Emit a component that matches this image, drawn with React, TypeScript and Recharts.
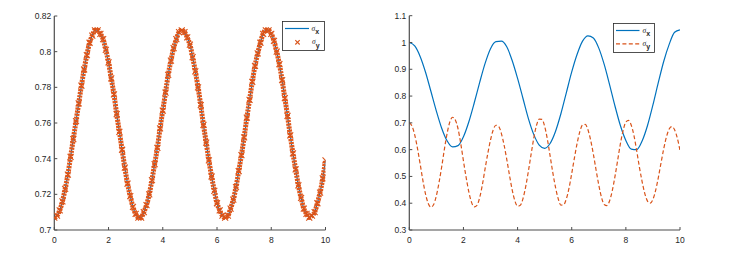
import React from 'react';
import { LineChart, Line, XAxis, YAxis, Legend } from 'recharts';

// time grid of the samples
const T_STEP = 0.1;

// left panel: sigma_x (line) and sigma_y (markers) coincide
const leftSigmaX = [
  0.707, 0.708, 0.711, 0.716, 0.723, 0.731, 0.741, 0.751, 0.761, 0.771,
  0.781, 0.790, 0.798, 0.805, 0.809, 0.812, 0.812, 0.810, 0.807, 0.801,
  0.794, 0.785, 0.776, 0.765, 0.755, 0.745, 0.735, 0.726, 0.719, 0.713,
  0.709, 0.707, 0.707, 0.710, 0.714, 0.720, 0.728, 0.737, 0.746, 0.757,
  0.767, 0.777, 0.787, 0.795, 0.802, 0.807, 0.811, 0.812, 0.811, 0.808,
  0.804, 0.797, 0.789, 0.780, 0.770, 0.759, 0.749, 0.739, 0.730, 0.722,
  0.715, 0.711, 0.708, 0.707, 0.708, 0.712, 0.717, 0.724, 0.733, 0.742,
  0.752, 0.763, 0.773, 0.783, 0.792, 0.799, 0.805, 0.810, 0.812, 0.812,
  0.810, 0.806, 0.800, 0.793, 0.784, 0.774, 0.764, 0.753, 0.743, 0.734,
  0.725, 0.718, 0.712, 0.709, 0.707, 0.708, 0.710, 0.715, 0.721, 0.729,
  0.739,
];
const leftSigmaY = leftSigmaX;

// right panel: sigma_x every 0.2, sigma_y every 0.1
const rightSigmaX = [
  1.000, 0.987, 0.948, 0.889, 0.817, 0.744, 0.679, 0.632, 0.610, 0.615,
  0.648, 0.704, 0.775, 0.851, 0.922, 0.977, 1.003, 1.005, 0.984, 0.933,
  0.866, 0.791, 0.716, 0.656, 0.617, 0.605, 0.623, 0.668, 0.734, 0.812,
  0.890, 0.956, 1.005, 1.025, 1.017, 0.979, 0.918, 0.842, 0.762, 0.689,
  0.634, 0.602, 0.600, 0.632, 0.690, 0.767, 0.851, 0.930, 0.993, 1.038,
  1.047,
];
const rightSigmaY = [
  0.700, 0.688, 0.655, 0.606, 0.547, 0.486, 0.434, 0.399, 0.385, 0.395,
  0.428, 0.478, 0.538, 0.604, 0.662, 0.704, 0.721, 0.711, 0.678, 0.623,
  0.558, 0.496, 0.442, 0.403, 0.386, 0.392, 0.421, 0.469, 0.529, 0.586,
  0.636, 0.674, 0.691, 0.687, 0.661, 0.618, 0.564, 0.505, 0.450, 0.409,
  0.389, 0.392, 0.417, 0.462, 0.520, 0.583, 0.644, 0.691, 0.714, 0.713,
  0.687, 0.639, 0.578, 0.515, 0.460, 0.417, 0.393, 0.394, 0.416, 0.456,
  0.511, 0.569, 0.624, 0.667, 0.692, 0.694, 0.674, 0.635, 0.583, 0.524,
  0.468, 0.422, 0.395, 0.391, 0.409, 0.448, 0.501, 0.562, 0.623, 0.672,
  0.703, 0.709, 0.691, 0.652, 0.596, 0.535, 0.481, 0.436, 0.408, 0.400,
  0.414, 0.448, 0.496, 0.551, 0.604, 0.648, 0.677, 0.686, 0.674, 0.643,
  0.597,
];

const xTicks = [0, 2, 4, 6, 8, 10];
const leftYTicks = [0.7, 0.72, 0.74, 0.76, 0.78, 0.8, 0.82];
const rightYTicks = [0.3, 0.4, 0.5, 0.6, 0.7, 0.8, 0.9, 1, 1.1];

const BLUE = '#0072BD';
const ORANGE = '#D95319';
const AXIS = '#4d4d4d';
const FONT = '"Liberation Sans", Arial, sans-serif';

const leftData = leftSigmaX.map((v, i) => ({
  t: Math.round(i * T_STEP * 10) / 10,
  sx: v,
  sy: leftSigmaY[i],
}));

const rightData = rightSigmaY.map((v, i) => ({
  t: Math.round(i * T_STEP * 10) / 10,
  sx: i % 2 === 0 ? rightSigmaX[i / 2] : null,
  sy: v,
}));

const tickStyle = { fontSize: 8.5, fill: '#262626', fontFamily: FONT };

// matlab style 'x' marker
const XMark = (props: any) => {
  const { cx, cy, r = 2.6, key } = props;
  if (cx == null || cy == null) return <g key={key} />;
  return (
    <g key={key}>
      <line x1={cx - r} y1={cy - r} x2={cx + r} y2={cy + r} stroke={ORANGE} strokeWidth={1.1} />
      <line x1={cx - r} y1={cy + r} x2={cx + r} y2={cy - r} stroke={ORANGE} strokeWidth={1.1} />
    </g>
  );
};

const Sigma = ({ x, y, sub }: { x: number; y: number; sub: string }) => (
  <text x={x} y={y} fontSize={7.5} fill="#262626" fontFamily='"Liberation Serif", serif' fontStyle="italic">
    σ
    <tspan dy={3.8} fontSize={7} fontStyle="normal" fontWeight="bold" fontFamily={FONT}>
      {sub}
    </tspan>
  </text>
);

const LeftLegend = () => (
  <svg width={43} height={30}>
    <rect x={0.5} y={0.5} width={42} height={29} fill="#fff" stroke="#262626" strokeWidth={0.8} />
    <line x1={3} y1={7.5} x2={27} y2={7.5} stroke={BLUE} strokeWidth={1.2} />
    <Sigma x={29.5} y={9.5} sub="x" />
    <XMark cx={15.5} cy={21.3} r={2.2} />
    <Sigma x={30} y={23} sub="y" />
  </svg>
);

const RightLegend = () => (
  <svg width={42} height={30}>
    <rect x={0.5} y={0.5} width={41} height={29} fill="#fff" stroke="#262626" strokeWidth={0.8} />
    <line x1={3} y1={7.5} x2={26.5} y2={7.5} stroke={BLUE} strokeWidth={1.2} />
    <Sigma x={29.5} y={9.5} sub="x" />
    <line x1={3} y1={20.8} x2={26.5} y2={20.8} stroke={ORANGE} strokeWidth={1.2} strokeDasharray="4 2.4" />
    <Sigma x={29.5} y={22.5} sub="y" />
  </svg>
);

export default function App() {
  const axisCommon = {
    stroke: AXIS,
    tickLine: { stroke: AXIS },
    axisLine: { stroke: AXIS, strokeWidth: 1.2 },
    tickSize: -3,
  };
  return (
    <div style={{ position: 'absolute', left: 0, top: 0, width: 733, height: 259, background: '#fff' }}>
      <div style={{ position: 'absolute', left: 0, top: 0 }}>
        <LineChart width={340} height={259} data={leftData} margin={{ top: 16, right: 14.5, bottom: 9, left: 0 }}>
          <XAxis
            xAxisId="b"
            dataKey="t"
            type="number"
            domain={[0, 10]}
            ticks={xTicks}
            allowDataOverflow
            height={20}
            tickMargin={9.5}
            tick={tickStyle}
            {...axisCommon}
          />
          <XAxis xAxisId="t" orientation="top" dataKey="t" type="number" domain={[0, 10]} ticks={xTicks} height={0} tick={false} {...axisCommon} />
          <YAxis
            yAxisId="l"
            type="number"
            domain={[0.7, 0.82]}
            ticks={leftYTicks}
            allowDataOverflow
            width={54.3}
            tickMargin={6}
            tick={tickStyle}
            tickFormatter={(v) => String(v)}
            {...axisCommon}
          />
          <YAxis yAxisId="r" orientation="right" type="number" domain={[0.7, 0.82]} ticks={leftYTicks} width={0} tick={false} {...axisCommon} />
          <Line xAxisId="b" yAxisId="l" dataKey="sx" stroke={BLUE} strokeWidth={1.2} dot={false} type="monotone" isAnimationActive={false} />
          <Line
            xAxisId="b"
            yAxisId="l"
            dataKey="sy"
            stroke="#E0581C"
            strokeWidth={5}
            strokeDasharray="2.2 0.9"
            dot={<XMark />}
            type="monotone"
            isAnimationActive={false}
          />
          <Legend
            layout="vertical"
            align="center"
            verticalAlign="middle"
            content={() => <LeftLegend />}
            wrapperStyle={{ left: 282, top: 21, width: 43, height: 30 }}
          />
        </LineChart>
      </div>
      <div style={{ position: 'absolute', left: 360, top: 0 }}>
        <LineChart width={340} height={259} data={rightData} margin={{ top: 15.7, right: 20, bottom: 9, left: 0 }}>
          <XAxis
            xAxisId="b"
            dataKey="t"
            type="number"
            domain={[0, 10]}
            ticks={xTicks}
            allowDataOverflow
            height={20}
            tickMargin={9.5}
            tick={tickStyle}
            {...axisCommon}
          />
          <XAxis xAxisId="t" orientation="top" dataKey="t" type="number" domain={[0, 10]} ticks={xTicks} height={0} tick={false} {...axisCommon} />
          <YAxis
            yAxisId="l"
            type="number"
            domain={[0.3, 1.1]}
            ticks={rightYTicks}
            allowDataOverflow
            width={49.3}
            tickMargin={6}
            tick={tickStyle}
            tickFormatter={(v) => String(v)}
            {...axisCommon}
          />
          <YAxis yAxisId="r" orientation="right" type="number" domain={[0.3, 1.1]} ticks={rightYTicks} width={0} tick={false} {...axisCommon} />
          <Line xAxisId="b" yAxisId="l" dataKey="sx" stroke={BLUE} strokeWidth={1.2} dot={false} type="monotone" connectNulls isAnimationActive={false} />
          <Line
            xAxisId="b"
            yAxisId="l"
            dataKey="sy"
            stroke={ORANGE}
            strokeWidth={1.2}
            strokeDasharray="4 2.4"
            dot={false}
            type="monotone"
            isAnimationActive={false}
          />
          <Legend
            layout="vertical"
            align="center"
            verticalAlign="middle"
            content={() => <RightLegend />}
            wrapperStyle={{ left: 253, top: 22.7, width: 42, height: 30 }}
          />
        </LineChart>
      </div>
    </div>
  );
}
